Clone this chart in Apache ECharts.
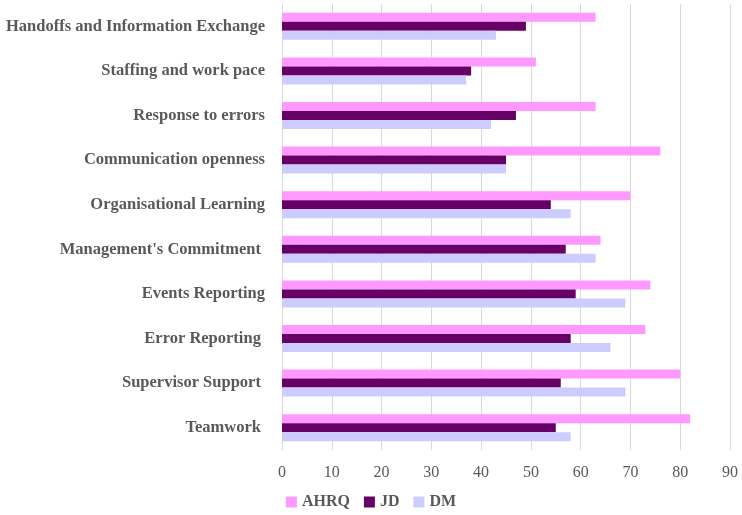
<!DOCTYPE html>
<html>
<head>
<meta charset="utf-8">
<script src="https://cdn.jsdelivr.net/npm/echarts@6/dist/echarts.min.js"></script>
<style>
  html, body { margin: 0; padding: 0; background: #fff; }
  #chart { width: 742px; height: 515px; }
</style>
</head>
<body>
<div id="chart"></div>
<script>
// categories, bottom to top
var categories = [
  "Teamwork ",
  "Supervisor Support ",
  "Error Reporting ",
  "Events Reporting",
  "Management's Commitment ",
  "Organisational Learning",
  "Communication openness",
  "Response to errors",
  "Staffing and work pace",
  "Handoffs and Information Exchange"
];
var ahrq = [82, 80, 73, 74, 64, 70, 76, 63, 51, 63];
var jd   = [55, 56, 58, 59, 57, 54, 45, 47, 38, 49];
var dm   = [58, 69, 66, 69, 63, 58, 45, 42, 37, 43];
var xTicks = [0, 10, 20, 30, 40, 50, 60, 70, 80, 90];

var fontFam = "'Liberation Serif', 'DejaVu Serif', serif";
var textGray = "#595959";

var chart = echarts.init(document.getElementById('chart'));

var option = {
  animation: false,
  backgroundColor: '#fff',
  grid: { left: 282, right: 12, top: 4, bottom: 65, containLabel: false },
  legend: {
    data: ['AHRQ', 'JD', 'DM'],
    bottom: 0,
    left: 'center',
    icon: 'rect',
    itemWidth: 11,
    itemHeight: 11,
    itemGap: 14,
    textStyle: { fontFamily: fontFam, fontSize: 16, color: textGray, fontWeight: 'bold' }
  },
  xAxis: {
    type: 'value',
    min: xTicks[0],
    max: xTicks[xTicks.length - 1],
    interval: 10,
    axisLine: { show: false },
    axisTick: { show: false },
    splitLine: { lineStyle: { color: '#d9d9d9', width: 1 } },
    axisLabel: { fontFamily: fontFam, fontSize: 16, color: textGray, margin: 15 }
  },
  yAxis: {
    type: 'category',
    data: categories,
    axisLine: { show: true, lineStyle: { color: '#d9d9d9' } },
    axisTick: { show: false },
    axisLabel: { fontFamily: fontFam, fontSize: 16.5, color: textGray, fontWeight: 'bold', margin: 17 }
  },
  series: [
    { name: 'AHRQ', type: 'bar', data: ahrq, barWidth: 9, barGap: '0%', itemStyle: { color: '#ff99ff' } },
    { name: 'JD', type: 'bar', data: jd, barWidth: 9, barGap: '0%', itemStyle: { color: '#660066' } },
    { name: 'DM', type: 'bar', data: dm, barWidth: 9, barGap: '0%', itemStyle: { color: '#ccccff' } }
  ]
};

chart.setOption(option);
</script>
</body>
</html>
